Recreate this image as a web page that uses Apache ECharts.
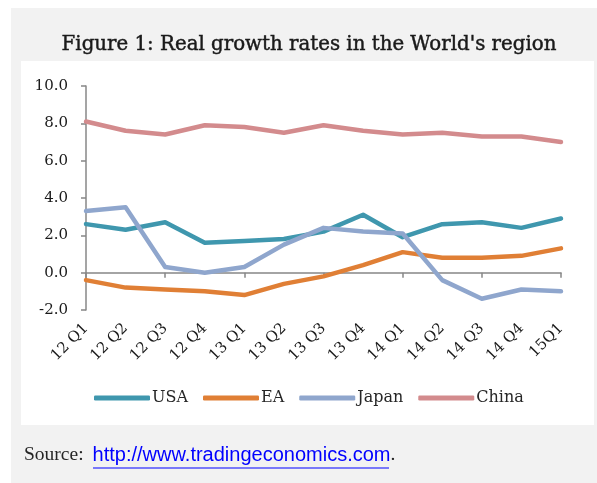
<!DOCTYPE html>
<html>
<head>
<meta charset="utf-8">
<script src="https://cdn.jsdelivr.net/npm/echarts@6/dist/echarts.min.js"></script>
<style>
  html, body { margin: 0; padding: 0; background: #ffffff; }
  #chart { width: 597px; height: 483px; }
</style>
</head>
<body>
<div id="chart"></div>
<script>
// Quarterly real GDP growth (%), 2012 Q1 – 2015 Q1
const quarters = ['12 Q1', '12 Q2', '12 Q3', '12 Q4', '13 Q1', '13 Q2', '13 Q3',
                  '13 Q4', '14 Q1', '14 Q2', '14 Q3', '14 Q4', '15Q1'];
const usa   = [2.6, 2.3, 2.7, 1.6, 1.7, 1.8, 2.2, 3.1, 1.9, 2.6, 2.7, 2.4, 2.9];
const ea    = [-0.4, -0.8, -0.9, -1.0, -1.2, -0.6, -0.2, 0.4, 1.1, 0.8, 0.8, 0.9, 1.3];
const japan = [3.3, 3.5, 0.3, 0.0, 0.3, 1.5, 2.4, 2.2, 2.1, -0.4, -1.4, -0.9, -1.0];
const china = [8.1, 7.6, 7.4, 7.9, 7.8, 7.5, 7.9, 7.6, 7.4, 7.5, 7.3, 7.3, 7.0];
const yTicks = { min: -2, max: 10, step: 2 };

const serif = '"DejaVu Serif", "Liberation Serif", serif';
const times = '"Liberation Serif", serif';
const axisGrey = '#878787';

const seriesDefs = [
  { name: 'USA',   data: usa,   color: '#3f97ae' },
  { name: 'EA',    data: ea,    color: '#e07f35' },
  { name: 'Japan', data: japan, color: '#8fa6cd' },
  { name: 'China', data: china, color: '#d38b8d' }
];

const chart = echarts.init(document.getElementById('chart'), null, { renderer: 'canvas' });

chart.setOption({
  animation: false,
  backgroundColor: '#ffffff',
  graphic: [
    // grey frame and white plot panel
    { type: 'rect', z: -10, shape: { x: 11, y: 8, width: 586, height: 475 }, style: { fill: '#f2f2f2' } },
    { type: 'rect', z: -9, shape: { x: 21, y: 61, width: 573, height: 364 }, style: { fill: '#ffffff' } },
    // figure title
    {
      type: 'text', x: 309, y: 45,
      style: {
        text: "Figure 1: Real growth rates in the World's region",
        align: 'center', verticalAlign: 'middle',
        fontFamily: serif, fontSize: 19.8, fill: '#1a1a1a',
        stroke: '#1a1a1a', lineWidth: 0.45
      }
    },
    // source line with underlined link
    {
      type: 'text', left: 24, top: 445,
      style: {
        text: '{s|Source:}{u|http://www.tradingeconomics.com}{s|.}',
        rich: {
          s: { fontFamily: times, fontSize: 19.5, fill: '#262626' },
          u: { fontFamily: '"Liberation Sans", Arial, sans-serif', fontSize: 20, fill: '#0000ff', padding: [0, 0, 0, 9] }
        }
      }
    },
    { type: 'line', shape: { x1: 93, y1: 468, x2: 389, y2: 468 }, style: { stroke: '#0000ff', lineWidth: 1.2 } }
  ],
  legend: {
    top: 385,
    left: 89,
    icon: 'roundRect',
    itemWidth: 56,
    itemHeight: 5,
    itemGap: 15,
    textStyle: { fontFamily: serif, fontSize: 16, color: '#262626', padding: [0, 0, 0, -3] },
    data: seriesDefs.map(s => s.name)
  },
  grid: { left: 86, top: 86, width: 475, height: 224 },
  xAxis: [
    {
      type: 'category',
      data: quarters,
      boundaryGap: false,
      axisLine: { onZero: true, lineStyle: { color: axisGrey, width: 1.5 } },
      axisTick: { show: true, length: 5, lineStyle: { color: axisGrey, width: 1.5 } },
      axisLabel: { show: false },
      splitLine: { show: false }
    },
    {
      type: 'category',
      data: quarters,
      boundaryGap: false,
      position: 'bottom',
      axisLine: { show: false, onZero: false },
      axisTick: { show: false },
      axisLabel: {
        rotate: 45,
        margin: 16,
        fontFamily: serif,
        fontSize: 15,
        color: '#1a1a1a',
        interval: 0
      },
      splitLine: { show: false }
    }
  ],
  yAxis: {
    type: 'value',
    min: yTicks.min,
    max: yTicks.max,
    interval: yTicks.step,
    axisLine: { show: true, lineStyle: { color: axisGrey, width: 1.5 } },
    axisTick: { show: true, length: 5, lineStyle: { color: axisGrey, width: 1.5 } },
    splitLine: { show: false },
    axisLabel: {
      margin: 18,
      fontFamily: serif,
      fontSize: 15,
      color: '#1a1a1a',
      formatter: v => v.toFixed(1)
    }
  },
  series: seriesDefs.map(s => ({
    name: s.name,
    type: 'line',
    xAxisIndex: 0,
    data: s.data,
    symbol: 'none',
    color: s.color,
    lineStyle: { color: s.color, width: 4.5, cap: 'round', join: 'round' },
    itemStyle: { color: s.color }
  }))
});
</script>
</body>
</html>
